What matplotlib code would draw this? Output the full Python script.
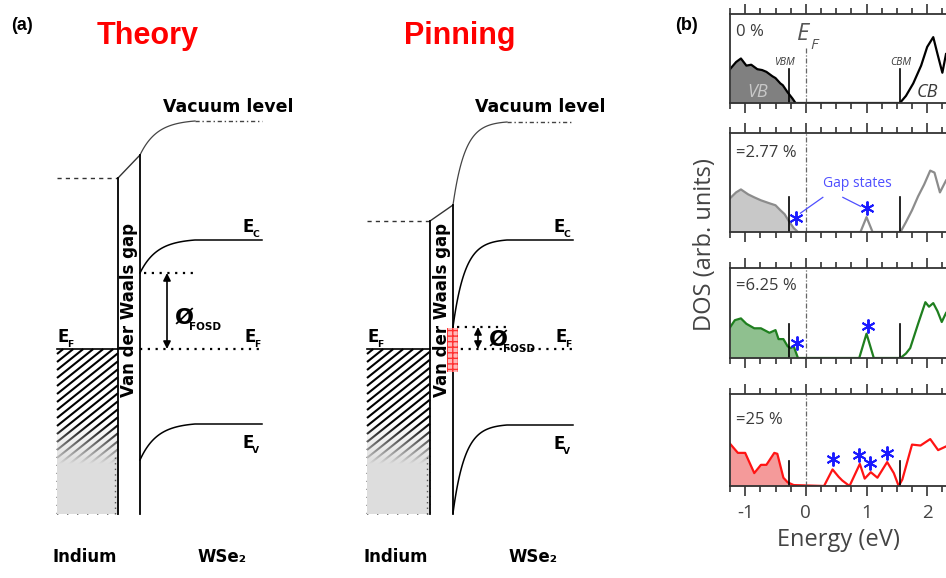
import numpy as np
import matplotlib.pyplot as plt
from matplotlib.patches import Rectangle
from matplotlib.collections import LineCollection
from matplotlib.ticker import MultipleLocator

plt.rcParams['axes.unicode_minus'] = False

# ---------------- (a) band diagrams, energies relative to E_F (arb. units) ----------------
# vacuum level: [metal, interface, bulk]; bands: [interface, bulk]
theory_vac = [171, 194, 228]
theory_ec = [76, 109]
theory_ev = [-111, -75]

pinning_vac = [128, 144, 227]
pinning_ec = [22, 109]
pinning_ev = [-164, -76]

# ---------------- (b) DOS for the four vacancy concentrations ----------------
dopings = ['0 %', '=2.77 %', '=6.25 %', '=25 %']

e_0 = [-1.25, -1.15, -1.07, -0.98, -0.9, -0.8, -0.72, -0.65, -0.55, -0.5, -0.42, -0.38,
       -0.3, -0.22, -0.17, 1.55, 1.65, 1.77, 1.9, 2.0, 2.1, 2.17, 2.25, 2.31]
dos_0 = [0.38, 0.46, 0.50, 0.42, 0.43, 0.38, 0.37, 0.35, 0.30, 0.28, 0.22, 0.20,
         0.12, 0.05, 0.0, 0.0, 0.08, 0.22, 0.42, 0.63, 0.74, 0.55, 0.34, 0.55]

e_1 = [-1.25, -1.15, -1.07, -0.95, -0.85, -0.74, -0.6, -0.5, -0.42, -0.35, -0.28, -0.2,
       -0.13, 0.9, 1.0, 1.1, 1.56, 1.65, 1.75, 1.85, 1.95, 2.05, 2.12, 2.21, 2.31]
dos_1 = [0.34, 0.40, 0.43, 0.38, 0.35, 0.32, 0.29, 0.27, 0.22, 0.18, 0.11, 0.04,
         0.0, 0.0, 0.15, 0.0, 0.0, 0.10, 0.22, 0.36, 0.48, 0.62, 0.60, 0.40, 0.52]

e_2 = [-1.25, -1.17, -1.07, -0.98, -0.85, -0.74, -0.6, -0.5, -0.45, -0.37, -0.3, -0.25,
       -0.2, -0.13, 0.88, 1.0, 1.12, 1.56, 1.65, 1.72, 1.85, 1.97, 2.03, 2.1, 2.17, 2.24, 2.31]
dos_2 = [0.34, 0.42, 0.44, 0.38, 0.33, 0.33, 0.28, 0.31, 0.21, 0.21, 0.13, 0.11,
         0.13, 0.0, 0.0, 0.27, 0.0, 0.0, 0.05, 0.11, 0.38, 0.62, 0.57, 0.61, 0.52, 0.40, 0.50]

e_3 = [-1.25, -1.12, -1.0, -0.85, -0.74, -0.65, -0.52, -0.47, -0.37, -0.3, -0.2, 0.3,
       0.44, 0.54, 0.6, 0.72, 0.89, 0.97, 1.07, 1.18, 1.34, 1.45, 1.53, 1.59, 1.75,
       1.89, 2.05, 2.18, 2.31]
dos_3 = [0.46, 0.36, 0.36, 0.14, 0.23, 0.23, 0.36, 0.35, 0.09, 0.04, 0.01, 0.0,
         0.18, 0.10, 0.06, 0.0, 0.24, 0.08, 0.15, 0.09, 0.26, 0.14, 0.0, 0.07, 0.45,
         0.44, 0.51, 0.39, 0.43]

energies = [e_0, e_1, e_2, e_3]
dos_values = [dos_0, dos_1, dos_2, dos_3]

vbm = -0.27
cbm = 1.56
edge_heights = [0.38, 0.35, 0.38, 0.27]

star_e = [[], [-0.16, 1.0], [-0.15, 1.02], [0.45, 0.88, 1.06, 1.33]]
star_dos = [[], [0.14, 0.24], [0.17, 0.36], [0.29, 0.34, 0.25, 0.36]]

line_colors = ['black', '#8c8c8c', '#1f7f1f', '#ff1414']
fill_colors = ['#808080', '#c8c8c8', '#8fc08f', '#f49a9a']

FIG_W, FIG_H = 946, 578
fig = plt.figure(figsize=(FIG_W / 100, FIG_H / 100), dpi=100)

BOLD = dict(family='DejaVu Sans', fontweight='bold')


def bend(x0, width, iface, bulk, decay, n=80):
    # band bending relaxing from the interface value to the bulk value
    t = np.linspace(0, width, n)
    f = (np.exp(-t / decay) - np.exp(-width / decay)) / (1 - np.exp(-width / decay))
    return x0 + t, bulk + (iface - bulk) * f


def hatch_segments(width, bottom, slope=0.8, step=10.0):
    # diagonal "/" lines clipped to the box [0, width] x [bottom, 0]
    segs = []
    height = -bottom
    k = -int(height / slope / step) - 1
    while k * step <= width:
        x0 = k * step
        xa, xb = max(x0, 0.0), min(x0 + height / slope, width)
        if xb > xa:
            segs.append([(xa, bottom + slope * (xa - x0)),
                         (xb, bottom + slope * (xb - x0))])
        k += 1
    return segs


def level_label(ax, x, y, main, sub, size=12):
    ax.text(x, y, main, fontsize=size, ha='left', va='bottom', **BOLD)
    ax.text(x + 10, y - 3, sub, fontsize=size * 0.55, ha='left', va='bottom', **BOLD)


def draw_diagram(ax, vac, ec, ev, metal_w, gap_w, decay, bend_w, x_end, title,
                 arrow_x, phi_x, phi_y, vac_label_x):
    bottom = -165
    gap_r = metal_w + gap_w

    # metal: hatched block fading into grey
    hatch = LineCollection(hatch_segments(metal_w, bottom), colors='black',
                           linewidths=1.5, zorder=2)
    ax.add_collection(hatch)
    ys = np.linspace(0, bottom, 120)
    fade = np.zeros((120, 1, 4))
    fade[..., :3] = 0.87
    fade[:, 0, 3] = np.clip((ys + 75) / (-40), 0, 1)
    ax.imshow(fade, extent=(0, metal_w, bottom, 0), origin='upper', aspect='auto',
              interpolation='bilinear', zorder=3)
    ax.plot([metal_w - 3, metal_w - 3], [bottom, -105], ls=(0, (1, 3)), color='#555',
            lw=1.0, zorder=4)
    ax.plot([0, metal_w], [0, 0], color='black', lw=1.2, zorder=4)

    # van der Waals gap walls and vacuum level across it
    ax.plot([metal_w, metal_w], [vac[0], bottom], color='black', lw=1.3, zorder=4)
    ax.plot([gap_r, gap_r], [vac[1], bottom], color='black', lw=1.3, zorder=4)
    ax.plot([metal_w, gap_r], [vac[0], vac[1]], color='#333', lw=1.0)
    ax.plot([0, metal_w], [vac[0], vac[0]], color='#333', lw=1.0, ls=(0, (3, 3)))

    # vacuum level in WSe2
    xv, yv = bend(gap_r, bend_w, vac[1], vac[2], decay)
    ax.plot(xv, yv, color='#444', lw=0.9)
    ax.plot([gap_r + bend_w, x_end], [vac[2], vac[2]], color='#444', lw=1.0,
            ls=(0, (3, 2, 1, 2)))

    # conduction and valence bands
    for band in (ec, ev):
        xb, yb = bend(gap_r, bend_w, band[0], band[1], decay)
        ax.plot(np.append(xb, x_end), np.append(yb, band[1]), color='black', lw=1.1)

    # Fermi level in WSe2 and barrier
    ax.plot([gap_r, x_end], [0, 0], color='black', lw=1.6, ls=(0, (1, 2.5)))
    ax.plot([gap_r + 4, phi_x + 20], [ec[0], ec[0]], color='black', lw=1.6,
            ls=(0, (1, 2.5)))
    ax.annotate('', xy=(arrow_x, 0), xytext=(arrow_x, ec[0]),
                arrowprops=dict(arrowstyle='<|-|>', color='black', lw=1.2,
                                mutation_scale=11, shrinkA=0, shrinkB=0))
    ax.text(phi_x, phi_y, 'Ø', fontsize=16, ha='left', va='center', **BOLD)
    ax.text(phi_x + 15, phi_y - 9, 'FOSD', fontsize=7.5, ha='left', va='center', **BOLD)

    ax.text(metal_w + gap_w / 2, 39, 'Van der Waals gap', rotation=90, fontsize=12,
            ha='center', va='center', **BOLD)
    ax.text(vac_label_x, 242, 'Vacuum level', fontsize=12.5, ha='left', va='center',
            **BOLD)
    level_label(ax, x_end - 20, ec[1] + 4, 'E', 'C')
    level_label(ax, x_end - 18, 3, 'E', 'F')
    level_label(ax, x_end - 20, ev[1] - 28, 'E', 'V')
    level_label(ax, 0, 3, 'E', 'F')
    ax.text(metal_w / 2 - 3, -208, 'Indium', fontsize=12, ha='center', va='center', **BOLD)
    ax.text(x_end - 40, -208, 'WSe₂', fontsize=12, ha='center', va='center', **BOLD)
    ax.text(metal_w + 30, 313, title, fontsize=22, color='#ff0000', ha='center',
            va='center', family='Liberation Sans', fontweight='bold')


# Theory: metal edge at x = 57 px, E_F at y = 349 px
ax_t = fig.add_axes([0, 0, 330 / FIG_W, 1])
draw_diagram(ax_t, theory_vac, theory_ec, theory_ev, metal_w=61, gap_w=22, decay=17,
             bend_w=55, x_end=205, title='Theory', arrow_x=110, phi_x=117, phi_y=31,
             vac_label_x=106)
ax_t.set_xlim(-57, 273)
ax_t.set_ylim(-229, 349)
ax_t.axis('off')

ax_p = fig.add_axes([330 / FIG_W, 0, 330 / FIG_W, 1])
draw_diagram(ax_p, pinning_vac, pinning_ec, pinning_ev, metal_w=63, gap_w=23, decay=12,
             bend_w=54, x_end=206, title='Pinning', arrow_x=111, phi_x=121, phi_y=9,
             vac_label_x=108)
# interface gap states
ax_p.add_patch(Rectangle((80, -23), 11, 44, facecolor=(1, 0.72, 0.72),
                         edgecolor='#ff3030', hatch='+++', lw=0, zorder=5))
ax_p.set_xlim(-37, 293)
ax_p.set_ylim(-229, 349)
ax_p.axis('off')

fig.text(22 / FIG_W, 1 - 25 / FIG_H, '(a)', fontsize=13, ha='center', va='center',
         family='Liberation Sans', fontweight='bold')
fig.text(686 / FIG_W, 1 - 25 / FIG_H, '(b)', fontsize=13, ha='center', va='center',
         family='Liberation Sans', fontweight='bold')

# ---------------- (b) stacked DOS panels ----------------
panel_top = [14, 133, 268, 394]
panel_bottom = [103, 232, 358, 486]
left = 730 / FIG_W
TXT = dict(family='Open Sans', color='#3a3a3a')

for i in range(4):
    ax = fig.add_axes([left, 1 - panel_bottom[i] / FIG_H, 1 - left,
                       (panel_bottom[i] - panel_top[i]) / FIG_H])
    e = np.array(energies[i])
    d = np.array(dos_values[i])
    ax.fill_between(e, 0, d, where=e <= 0, color=fill_colors[i], lw=0)
    ax.plot(e, d, color=line_colors[i], lw=1.6)
    ax.set_xlim(-1.25, 2.31)
    ax.set_ylim(0, 1)
    for edge in (vbm, cbm):
        ax.plot([edge, edge], [0, edge_heights[i]], color='black', lw=1.2)
    ef_top = 0.62 if i == 0 else 1.0
    ax.plot([0, 0], [0, ef_top], color='#666', lw=0.9, ls=(0, (4, 1.5, 1, 1.5)))
    if star_e[i]:
        ax.plot(star_e[i], star_dos[i], ls='none', marker=(6, 2, 0), ms=10, mew=1.4,
                color='#1a1aff')
    ax.text(0.03, 0.80 if i != 3 else 0.72, dopings[i], transform=ax.transAxes,
            fontsize=12, ha='left', va='center', **TXT)

    for s in ('top', 'bottom', 'left'):
        ax.spines[s].set_color('#333')
        ax.spines[s].set_linewidth(1.3)
    ax.spines['right'].set_visible(False)
    ax.xaxis.set_major_locator(MultipleLocator(1))
    ax.xaxis.set_minor_locator(MultipleLocator(0.25))
    ax.tick_params(which='both', top=True, bottom=True, left=False, direction='out',
                   color='#333', width=1.2, labelbottom=(i == 3), labelsize=13.5,
                   labelcolor='#444', pad=6)
    ax.tick_params(which='major', length=7)
    ax.tick_params(which='minor', length=4)
    ax.set_yticks([])
    if i == 3:
        for lab in ax.get_xticklabels():
            lab.set_family('Open Sans')

    if i == 0:
        ax.text(-0.36, 0.46, 'VBM', fontsize=7.5, style='italic', ha='center',
                va='center', **TXT)
        ax.text(1.56, 0.46, 'CBM', fontsize=7.5, style='italic', ha='center',
                va='center', **TXT)
        ax.text(-0.79, 0.12, 'VB', fontsize=13, style='italic', ha='center',
                va='center', family='Open Sans', color='#c8c8c8')
        ax.text(2.0, 0.12, 'CB', fontsize=13, style='italic', ha='center',
                va='center', **TXT)
        ax.text(-0.05, 0.78, 'E', fontsize=17, style='italic', ha='center',
                va='center', family='Open Sans', color='#555')
        ax.text(0.13, 0.65, 'F', fontsize=11, style='italic', ha='center',
                va='center', family='Open Sans', color='#555')
    if i == 1:
        ax.text(0.85, 0.49, 'Gap states', fontsize=10, ha='center', va='center',
                family='Open Sans', color='#4f4fff')
        ax.plot([0.28, -0.09], [0.35, 0.19], color='#4f4fff', lw=0.9)
        ax.plot([0.61, 0.9], [0.35, 0.26], color='#4f4fff', lw=0.9)
    if i == 3:
        ax.set_xlabel('Energy (eV)', fontsize=17, family='Open Sans', color='#444',
                      labelpad=4)

fig.text(705 / FIG_W, 1 - 245 / FIG_H, 'DOS (arb. units)', rotation=90, fontsize=17,
         ha='center', va='center', family='Open Sans', color='#444')

fig.savefig('out.png', dpi=100)
